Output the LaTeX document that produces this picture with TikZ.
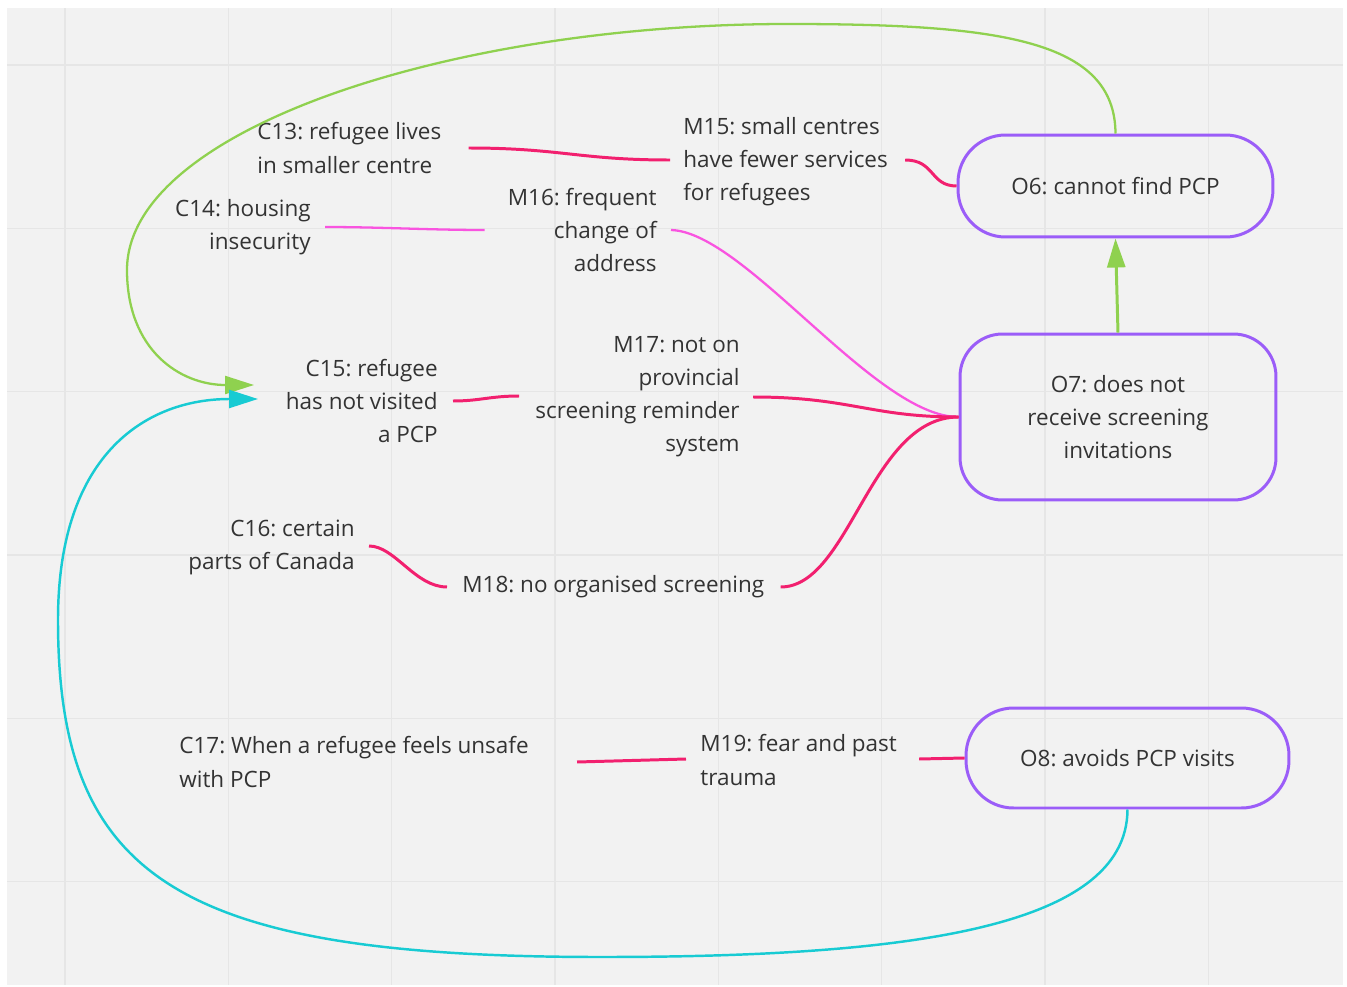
\documentclass[tikz,border=0pt]{standalone}
\usepackage{fontspec}
\setmainfont{Open Sans}
\usetikzlibrary{arrows.meta,calc}
\definecolor{cBg}{HTML}{F2F2F2}
\definecolor{cGrid}{HTML}{E6E6E6}
\definecolor{cTxt}{HTML}{333333}
\definecolor{cPurp}{HTML}{9B5DF8}
\definecolor{cPink}{HTML}{F2206F}
\definecolor{cMag}{HTML}{F954E0}
\definecolor{cGreen}{HTML}{8FD14F}
\definecolor{cCyan}{HTML}{18CBD3}
\frenchspacing
\begin{document}
\begin{tikzpicture}[x=0.02cm,y=-0.02cm,
  txt/.style={inner sep=0pt, text=cTxt, font=\fontsize{12.8}{18.8}\selectfont},
  obox/.style={draw=cPurp, line width=1.7pt, align=center, text=cTxt,
    font=\fontsize{12.8}{18.8}\selectfont, inner sep=0pt},
  pinkline/.style={draw=cPink, line width=1.7pt},
  magline/.style={draw=cMag, line width=1.3pt},
  greenline/.style={draw=cGreen, line width=1.3pt},
  cyanline/.style={draw=cCyan, line width=1.4pt},
  tip/.style={-{Triangle[length=0.58cm,width=0.36cm]}}]
\useasboundingbox[fill=white] (0,0) rectangle (1347,987);
\fill[cBg] (7,8) rectangle (1343,985);
\foreach \g in {65,228.3,391.6,555,718.3,881.6,1045,1208.3}
  \draw[cGrid, line width=0.9pt] (\g,8) -- (\g,985);
\foreach \g in {65,228.3,391.6,555,718.3,881.6}
  \draw[cGrid, line width=0.9pt] (7,\g) -- (1343,\g);

% text nodes
\node[txt, anchor=west, align=left] (c13) at (257,148) {C13: refugee lives\\in smaller centre};
\node[txt, anchor=east, align=right] (c14) at (311,227) {C14: housing\\insecurity};
\node[txt, anchor=west, align=left] (m15) at (683,162) {M15: small centres\\have fewer services\\for refugees};
\node[txt, anchor=east, align=right] (m16) at (657,230) {M16: frequent\\change of\\address};
\node[txt, anchor=east, align=right] (c15) at (438,401) {C15: refugee\\has not visited\\a PCP};
\node[txt, anchor=east, align=right] (m17) at (740,397) {M17: not on\\provincial\\screening reminder\\system};
\node[txt, anchor=east, align=right] (c16) at (355,547) {C16: certain\\parts of Canada};
\node[txt, anchor=west] (m18) at (462,587) {M18: no organised screening};
\node[txt, anchor=west, align=left] (c17) at (179,762) {C17: When a refugee feels unsafe\\with PCP};
\node[txt, anchor=west, align=left] (m19) at (700,760) {M19: fear and past\\trauma};

% outcome boxes
\node[obox, rounded corners=0.95cm, minimum width=6.3cm, minimum height=2.04cm] (o6) at (1115.5,186) {O6: cannot find PCP};
\node[obox, rounded corners=0.85cm, minimum width=6.32cm, minimum height=3.32cm] (o7) at (1118,417) {O7: does not\\receive screening\\invitations};
\node[obox, rounded corners=0.95cm, minimum width=6.46cm, minimum height=2.0cm] (o8) at (1127.5,758) {O8: avoids PCP visits};

\coordinate (gtip) at (254,385);
\coordinate (ctip) at (258,399);

% pink / magenta links
\draw[pinkline] ($(c13.east)+(27,0)$) .. controls (560,148) and (580,160) .. ($(m15.west)+(-13,-2)$);
\draw[pinkline] ($(m15.east)+(17,-2)$) .. controls (935,160) and (930,186) .. (o6.west);
\draw[magline] ($(c14.east)+(14,0)$) .. controls (380,227) and (430,230) .. ($(m16.west)+(-23,0)$);
\draw[magline] ($(m16.east)+(14,0)$) .. controls (745,232) and (875,417) .. (o7.west);
\draw[pinkline] ($(c15.east)+(15,0)$) .. controls (480,401) and (490,396) .. ($(m17.west)+(-16,-1)$);
\draw[pinkline] ($(m17.east)+(13,0)$) .. controls (850,397) and (870,417) .. (o7.west);
\draw[pinkline] ($(c16.east)+(14,-1)$) .. controls (395,546) and (415,587) .. ($(m18.west)+(-15,0)$);
\draw[pinkline] ($(m18.east)+(16,0)$) .. controls (850,587) and (870,417) .. (o7.west);
\draw[pinkline] ($(c17.east)+(48,0)$) -- ($(m19.west)+(-14,-1)$);
\draw[pinkline] ($(m19.east)+(22,-1)$) -- (o8.west);

% green and cyan arrows
\draw[greenline, line width=1.7pt, tip] (o7.north) -- (o6.south);
\draw[greenline, tip] (o6.north) .. controls (1115,40) and (1000,24) .. (788,24)
  .. controls (450,24) and (127,130) .. (127,270)
  .. controls (127,350) and (180,385) .. (gtip);
\draw[cyanline, tip] (o8.south) .. controls (1127,930) and (900,957) .. (601,957)
  .. controls (176,957) and (58,877) .. (58,620)
  .. controls (58,450) and (150,399) .. (ctip);
\end{tikzpicture}
\end{document}
